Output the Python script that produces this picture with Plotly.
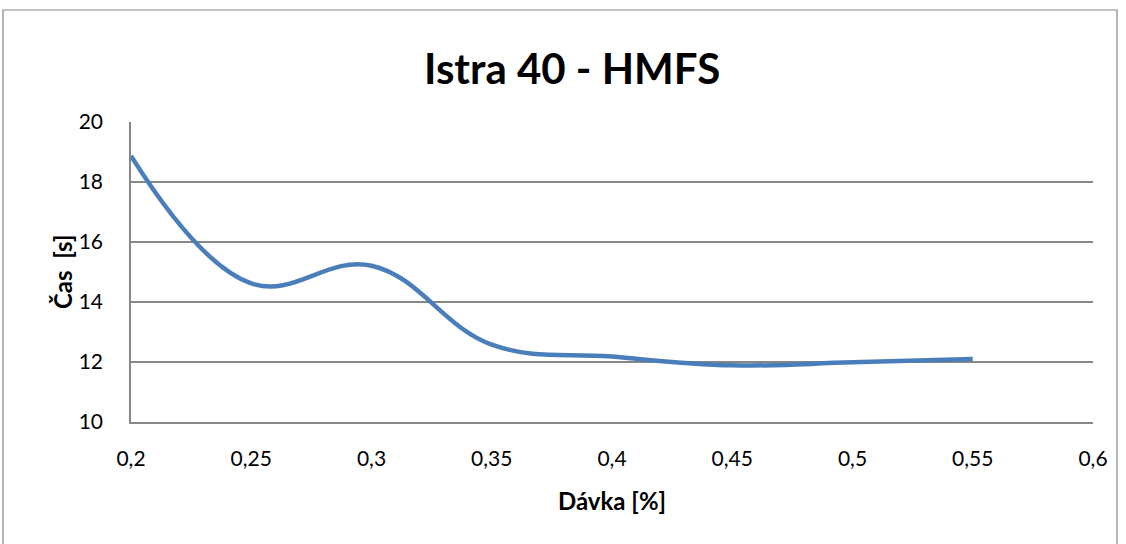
import plotly.graph_objects as go

# Dávka [%] vs. Čas [s]
davka = [0.20, 0.25, 0.30, 0.35, 0.40, 0.45, 0.50, 0.55]
cas = [18.87, 14.62, 15.21, 12.58, 12.18, 11.89, 11.99, 12.10]

x_ticks = [0.2, 0.25, 0.3, 0.35, 0.4, 0.45, 0.5, 0.55, 0.6]
y_ticks = [10, 12, 14, 16, 18, 20]

FONT = "Lato, 'Noto Sans', sans-serif"
GRID = "#878787"

W, H = 1126, 544
L, R, T, B = 131, 33, 122, 122
PW, PH = W - L - R, H - T - B


def px_x(p):
    return (p - L) / PW


def px_y(p):
    return (H - B - p) / PH


fig = go.Figure()
fig.add_trace(go.Scatter(
    x=davka, y=cas, mode="lines",
    line=dict(color="#4A7EBB", width=4.5, shape="spline", smoothing=1.15),
    hoverinfo="x+y", showlegend=False,
))

fig.update_layout(
    width=W, height=H,
    margin=dict(l=L, r=R, t=T, b=B, pad=0),
    paper_bgcolor="white", plot_bgcolor="white",
    separators=", ",
    font=dict(family=FONT, size=21, color="black"),
    xaxis=dict(
        range=[0.2, 0.6], tickvals=x_ticks, ticktext=[f"{v:g}".replace(".", ",") for v in x_ticks],
        showgrid=False, zeroline=False, showline=True, linecolor=GRID, linewidth=1.5,
        ticks="", ticklabelstandoff=17, tickfont=dict(size=21),
    ),
    yaxis=dict(
        range=[10, 20], tickvals=y_ticks,
        showgrid=True, gridcolor=GRID, gridwidth=1.5, zeroline=False,
        showline=True, linecolor=GRID, linewidth=1.5,
        ticks="", ticklabelstandoff=22, tickfont=dict(size=21),
    ),
    shapes=[dict(
        type="rect", xref="paper", yref="paper",
        x0=px_x(3), x1=px_x(1117), y0=px_y(560), y1=px_y(10),
        line=dict(color=GRID, width=1.2), fillcolor="rgba(0,0,0,0)", layer="below",
    )],
    annotations=[
        dict(text="<b>Istra 40 - HMFS</b>", xref="paper", yref="paper",
             x=px_x(572), y=px_y(68), xanchor="center", yanchor="middle",
             showarrow=False, font=dict(family=FONT, size=42)),
        dict(text="<b>Dávka [%]</b>", xref="paper", yref="paper",
             x=px_x(612), y=px_y(500), xanchor="center", yanchor="middle",
             showarrow=False, font=dict(family=FONT, size=24)),
        dict(text="<b>Čas  [s]</b>", xref="paper", yref="paper",
             x=px_x(62), y=px_y(272), xanchor="center", yanchor="middle",
             textangle=-90, showarrow=False, font=dict(family=FONT, size=24)),
    ],
)

fig.write_html("out.html")
